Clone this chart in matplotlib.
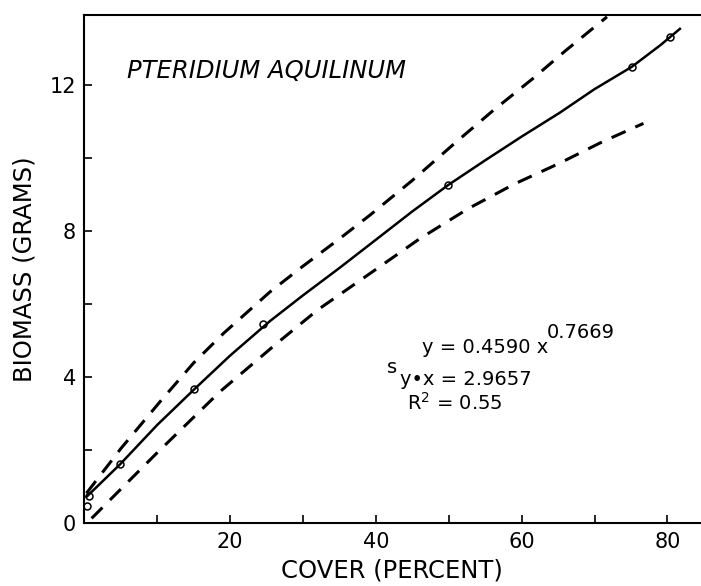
import matplotlib
matplotlib.use("Agg")
import matplotlib.pyplot as plt

plt.rcParams['font.family'] = ['DejaVu Sans']
plt.rcParams['mathtext.default'] = 'regular'

# observed points (cover %, biomass g)
obs_x = [0.3, 0.6, 4.9, 15.1, 24.5, 49.9, 75.1, 80.3]
obs_y = [0.48, 0.75, 1.62, 3.68, 5.46, 9.27, 12.51, 13.33]

# fitted curve
fit_x = [0.3, 4.9, 10, 15.1, 20, 25.5, 30, 35, 39.2, 45, 49.9, 55, 60, 65.2, 70, 75.1, 79, 81.7]
fit_y = [0.73, 1.62, 2.7, 3.68, 4.6, 5.55, 6.25, 7.0, 7.65, 8.55, 9.27, 9.95, 10.6, 11.25, 11.9, 12.51, 13.1, 13.55]

# upper / lower confidence bands
upper_x = [0.3, 5, 10.4, 15, 19.1, 25.5, 30, 35, 39.2, 45, 51, 56, 61.6, 66, 71.7]
upper_y = [0.83, 2.05, 3.34, 4.4, 5.21, 6.35, 7.05, 7.8, 8.45, 9.4, 10.45, 11.3, 12.2, 12.95, 13.88]
lower_x = [1.0, 9.9, 18.6, 26.2, 32, 39.2, 46, 52.7, 59, 65.2, 71, 76.7]
lower_y = [0.14, 1.92, 3.61, 4.9, 5.85, 6.85, 7.8, 8.63, 9.3, 9.87, 10.45, 10.96]

x_major = [0, 20, 40, 60, 80]
x_labels = ['', '20', '40', '60', '80']
x_minor = [10, 30, 50, 70]
y_major = [0, 4, 8, 12]
y_minor = [2, 6, 10]

fig = plt.figure(figsize=(7.01, 5.86), dpi=100)
ax = fig.add_axes([0.1203, 0.1067, 0.8787, 0.8677])

ax.plot(fit_x, fit_y, color='black', lw=1.8)
ax.plot(upper_x, upper_y, color='black', lw=2.2, dashes=(5, 3.5))
ax.plot(lower_x, lower_y, color='black', lw=2.2, dashes=(5, 3.5))
ax.plot(obs_x, obs_y, 'o', ms=5, mfc='none', mec='black', mew=1.1)

ax.set_xlim(0, 84.5)
ax.set_ylim(0, 13.93)
ax.set_xticks(x_major)
ax.set_xticklabels(x_labels)
ax.set_xticks(x_minor, minor=True)
ax.set_yticks(y_major)
ax.set_yticks(y_minor, minor=True)

ax.spines['right'].set_visible(False)
for s in ['left', 'bottom', 'top']:
    ax.spines[s].set_linewidth(1.5)
ax.tick_params(which='both', direction='in', length=6, width=1.2,
               labelsize=15, pad=6, top=False, right=False)

ax.set_xlabel('COVER (PERCENT)', fontsize=17.5, labelpad=5)
ax.set_ylabel('BIOMASS (GRAMS)', fontsize=17.5, labelpad=9)

ax.text(5.9, 12.2, 'PTERIDIUM AQUILINUM', fontsize=17.5, style='italic')

ax.text(46.3, 4.67, 'y = 0.4590 x', fontsize=14, va='baseline')
ax.text(63.4, 5.22, '0.7669', fontsize=14, va='center')
ax.text(41.5, 4.26, 's', fontsize=14, va='center')
ax.text(43.3, 3.79, 'y\u2022x = 2.9657', fontsize=14, va='baseline')
ax.text(44.3, 3.11, 'R$^2$ = 0.55', fontsize=14, va='baseline')

fig.savefig('out.png', dpi=100)
